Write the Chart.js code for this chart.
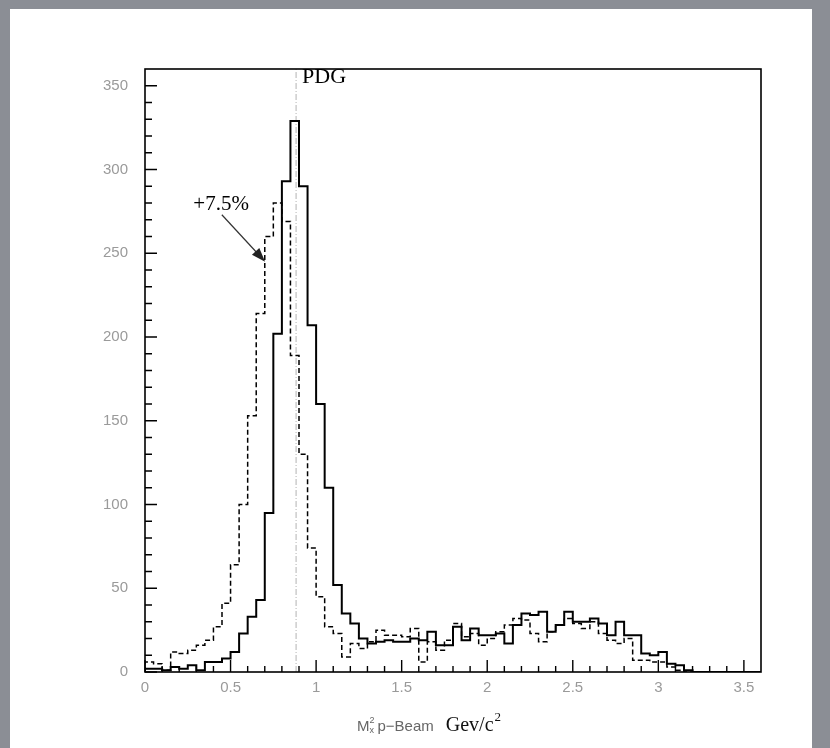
<!DOCTYPE html>
<html>
<head>
<meta charset="utf-8">
<script src="https://cdn.jsdelivr.net/npm/chart.js@4.4.0/dist/chart.umd.min.js"></script>
<style>
  html, body { margin: 0; padding: 0; }
  body { width: 830px; height: 748px; background: #8b8e95; position: relative; overflow: hidden; }
  #panel { position: absolute; left: 10px; top: 9px; width: 802px; height: 739px; background: #fff; }
  #wrap { position: absolute; left: 0; top: 0; width: 830px; height: 748px; }
</style>
</head>
<body>
<div id="panel"></div>
<div id="wrap"><canvas id="histo" width="830" height="748"></canvas></div>
<script>
// bins of 0.05 GeV^2 from 0 to 3.6
const binWidth = 0.05;
const solidCounts = [
  2, 2, 1, 3, 2, 4, 1, 6, 6, 8,
  12, 23, 33, 43, 95, 202, 293, 329, 290, 207,
  160, 110, 52, 35, 29, 20, 17, 18, 19, 18,
  18, 20, 19, 24, 16, 16, 27, 19, 26, 22,
  22, 23, 17, 28, 35, 34, 36, 24, 28, 36,
  30, 30, 32, 29, 22, 30, 22, 22, 11, 10,
  12, 5, 4, 1, 0, 0, 0, 0, 0, 0, 0, 0
];
const dashedCounts = [
  6, 5, 1, 12, 11, 13, 16, 19, 27, 41,
  64, 100, 153, 214, 260, 280, 269, 189, 130, 74,
  45, 27, 23, 9, 17, 14, 18, 25, 22, 22,
  21, 26, 6, 18, 13, 19, 29, 21, 23, 16,
  20, 24, 28, 32, 31, 23, 18, 24, 28, 32,
  29, 26, 30, 23, 19, 17, 20, 7, 7, 6,
  6, 3, 1, 0, 0, 0, 0, 0, 0, 0, 0, 0
];
const pdgValue = 0.883;
const xMax = 3.6, yMax = 360;

// one point per bin edge; stepped 'before' gives bin i the value counts[i]
function toSteps(counts) {
  const pts = [{ x: 0, y: 0 }];
  counts.forEach((c, i) => pts.push({ x: i * binWidth, y: c }));
  pts.push({ x: counts.length * binWidth, y: counts[counts.length - 1] });
  return pts;
}

const frameAndTicks = {
  id: 'frameAndTicks',
  afterDatasetsDraw(chart) {
    const { ctx, chartArea: a, scales: { x, y } } = chart;
    ctx.save();
    ctx.strokeStyle = '#000';
    ctx.lineWidth = 1.6;
    ctx.strokeRect(a.left, a.top, a.right - a.left, a.bottom - a.top);
    ctx.lineWidth = 1.4;
    ctx.beginPath();
    for (let i = 0; i * 0.1 < xMax - 0.01; i++) {
      const px = x.getPixelForValue(i * 0.1);
      const len = i % 5 === 0 ? 12 : 6;
      ctx.moveTo(px, a.bottom);
      ctx.lineTo(px, a.bottom - len);
    }
    for (let v = 0; v < yMax; v += 10) {
      const py = y.getPixelForValue(v);
      const len = v % 50 === 0 ? 12 : 7;
      ctx.moveTo(a.left, py);
      ctx.lineTo(a.left + len, py);
    }
    ctx.stroke();

    // labels inside the frame
    ctx.fillStyle = '#000';
    ctx.font = '22px "Liberation Serif"';
    ctx.textBaseline = 'alphabetic';
    ctx.fillText('PDG', x.getPixelForValue(pdgValue) + 6, 83);
    ctx.font = '21px "Liberation Serif"';
    ctx.textAlign = 'center';
    ctx.fillText('+7.5%', x.getPixelForValue(0.445), y.getPixelForValue(276));

    // arrow
    const x0 = x.getPixelForValue(0.449), y0 = y.getPixelForValue(273);
    const x1 = x.getPixelForValue(0.702), y1 = y.getPixelForValue(245);
    const ang = Math.atan2(y1 - y0, x1 - x0);
    ctx.strokeStyle = '#333';
    ctx.fillStyle = '#222';
    ctx.lineWidth = 1.2;
    ctx.beginPath();
    ctx.moveTo(x0, y0);
    ctx.lineTo(x1 - 8 * Math.cos(ang), y1 - 8 * Math.sin(ang));
    ctx.stroke();
    ctx.beginPath();
    ctx.moveTo(x1, y1);
    ctx.lineTo(x1 - 14 * Math.cos(ang) + 5 * Math.sin(ang), y1 - 14 * Math.sin(ang) - 5 * Math.cos(ang));
    ctx.lineTo(x1 - 14 * Math.cos(ang) - 5 * Math.sin(ang), y1 - 14 * Math.sin(ang) + 5 * Math.cos(ang));
    ctx.closePath();
    ctx.fill();

    // axis title, mixed fonts
    ctx.textAlign = 'left';
    ctx.fillStyle = '#666';
    let tx = 357;
    const ty = 731;
    ctx.font = '15px "Liberation Sans"';
    ctx.fillText('M', tx, ty); tx += ctx.measureText('M').width;
    ctx.font = '9px "Liberation Sans"';
    ctx.fillText('2', tx, ty - 8);
    ctx.fillText('x', tx, ty + 2); tx += 8;
    ctx.font = '15px "Liberation Sans"';
    ctx.fillText('p\u2212Beam', tx, ty); tx += ctx.measureText('p\u2212Beam').width + 12;
    ctx.fillStyle = '#111';
    ctx.font = '20px "Liberation Serif"';
    ctx.fillText('Gev/c', tx, ty); tx += ctx.measureText('Gev/c').width;
    ctx.font = '13px "Liberation Serif"';
    ctx.fillText('2', tx + 1, ty - 10);
    ctx.restore();
  }
};

new Chart(document.getElementById('histo'), {
  type: 'line',
  data: {
    datasets: [
      {
        label: 'solid',
        data: toSteps(solidCounts),
        stepped: 'before',
        borderColor: '#000',
        borderWidth: 2,
        pointRadius: 0,
        fill: false
      },
      {
        label: '+7.5%',
        data: toSteps(dashedCounts),
        stepped: 'before',
        borderColor: '#000',
        borderWidth: 1.5,
        borderDash: [5, 3],
        pointRadius: 0,
        fill: false
      },
      {
        label: 'PDG',
        data: [{ x: pdgValue, y: 0 }, { x: pdgValue, y: yMax }],
        borderColor: '#b4b4b4',
        borderWidth: 1,
        borderDash: [6, 2, 1, 2],
        pointRadius: 0
      }
    ]
  },
  options: {
    responsive: false,
    animation: false,
    layout: { padding: { left: 0, top: 69, right: 69, bottom: 0 } },
    plugins: { legend: { display: false }, tooltip: { enabled: false } },
    scales: {
      x: {
        type: 'linear',
        min: 0,
        max: xMax,
        grid: { display: false, drawTicks: false },
        border: { display: false },
        afterFit(s) { s.height = 76; },
        ticks: {
          stepSize: 0.5,
          includeBounds: false,
          padding: 7,
          color: '#9a9a9a',
          font: { family: 'Liberation Sans', size: 15 },
          maxRotation: 0,
          callback: (v) => String(Math.round(v * 10) / 10)
        }
      },
      y: {
        type: 'linear',
        min: 0,
        max: yMax,
        grid: { display: false, drawTicks: false },
        border: { display: false },
        afterFit(s) { s.width = 145; },
        ticks: {
          stepSize: 50,
          includeBounds: false,
          padding: 17,
          color: '#9a9a9a',
          font: { family: 'Liberation Sans', size: 15 }
        }
      }
    }
  },
  plugins: [frameAndTicks]
});
</script>
</body>
</html>
